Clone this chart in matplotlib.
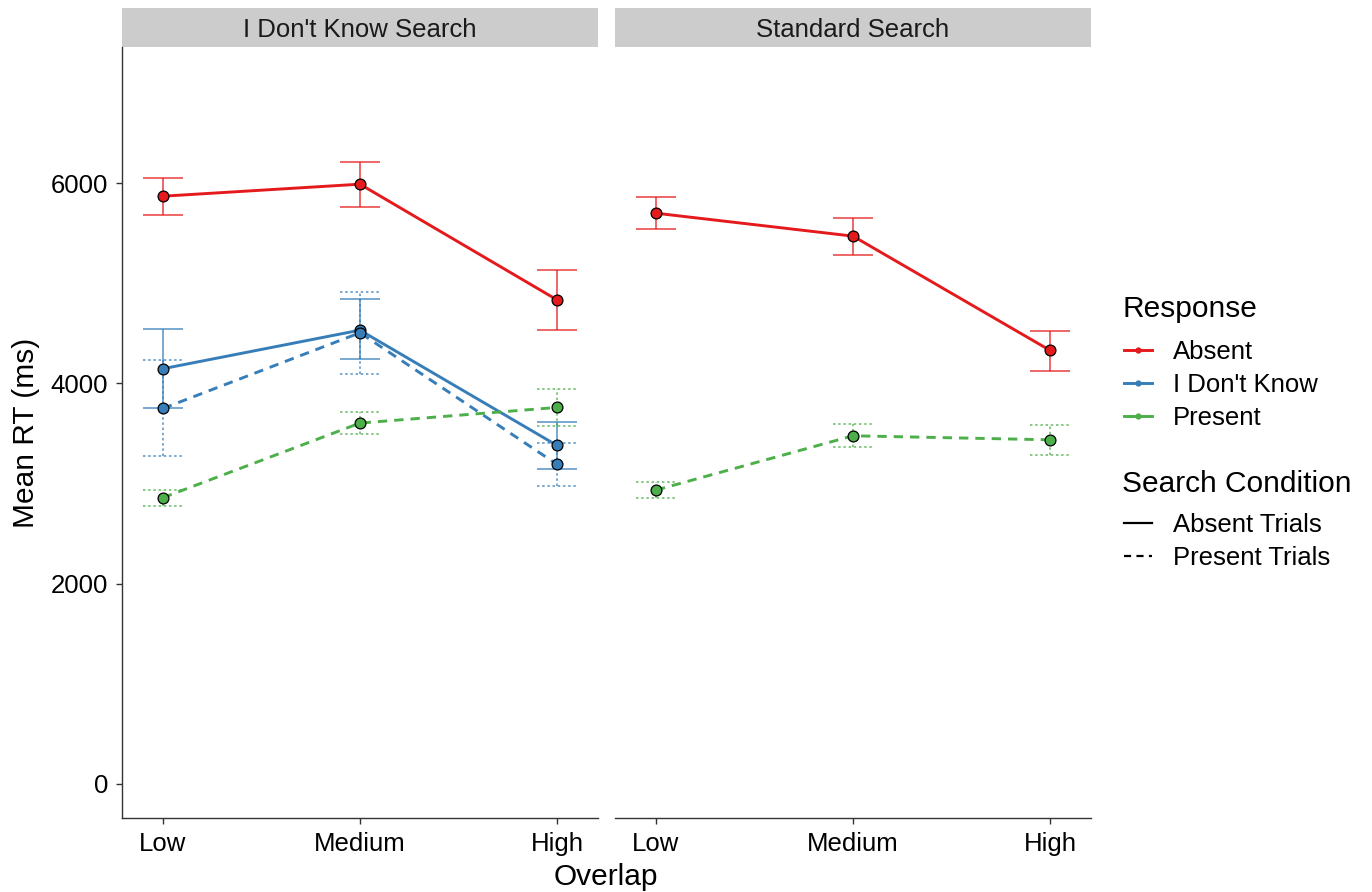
"""Mean RT by overlap level, split by search condition, response and trial type."""

import matplotlib

matplotlib.use("Agg")

import matplotlib.pyplot as plt
from matplotlib.lines import Line2D
from matplotlib.patches import Rectangle

plt.rcParams["font.family"] = ["Liberation Sans", "DejaVu Sans"]

OVERLAP = ["Low", "Medium", "High"]
PANELS = ["I Don't Know Search", "Standard Search"]

# (panel, response, trial type): mean, lower, upper
idk_absent_mean = [5870, 5990, 4835]
idk_absent_lo = [5683, 5763, 4535]
idk_absent_hi = [6048, 6216, 5134]

idk_idk_absent_mean = [4147, 4532, 3381]
idk_idk_absent_lo = [3757, 4240, 3145]
idk_idk_absent_hi = [4539, 4842, 3611]

idk_idk_present_mean = [3750, 4506, 3192]
idk_idk_present_lo = [3271, 4096, 2972]
idk_idk_present_hi = [4230, 4912, 3407]

idk_present_mean = [2859, 3604, 3760]
idk_present_lo = [2775, 3491, 3574]
idk_present_hi = [2935, 3717, 3943]

std_absent_mean = [5700, 5471, 4330]
std_absent_lo = [5540, 5284, 4126]
std_absent_hi = [5863, 5653, 4525]

std_present_mean = [2935, 3477, 3437]
std_present_lo = [2858, 3367, 3284]
std_present_hi = [3012, 3591, 3581]

COLORS = {"Absent": "#E41A1C", "I Don't Know": "#377EB8", "Present": "#4DAF4A"}
LINESTYLES = {"Absent Trials": "solid", "Present Trials": (0, (3.2, 2.4))}
ERR_STYLES = {"Absent Trials": "solid", "Present Trials": (0, (1.6, 1.8))}

series = {
    PANELS[0]: [
        ("Absent", "Absent Trials", idk_absent_mean, idk_absent_lo, idk_absent_hi),
        ("I Don't Know", "Absent Trials", idk_idk_absent_mean, idk_idk_absent_lo, idk_idk_absent_hi),
        ("I Don't Know", "Present Trials", idk_idk_present_mean, idk_idk_present_lo, idk_idk_present_hi),
        ("Present", "Present Trials", idk_present_mean, idk_present_lo, idk_present_hi),
    ],
    PANELS[1]: [
        ("Absent", "Absent Trials", std_absent_mean, std_absent_lo, std_absent_hi),
        ("Present", "Present Trials", std_present_mean, std_present_lo, std_present_hi),
    ],
}

BASE = 18.5
TITLE = 21.5
AXIS_COLOR = "#333333"

fig = plt.figure(figsize=(13.72, 8.92), dpi=100)
ax_left = fig.add_axes([0.0889, 0.0830, 0.3469, 0.8643])
ax_right = fig.add_axes([0.4483, 0.0830, 0.3469, 0.8643], sharey=ax_left)
xs = [1, 2, 3]
cap = 0.1

for ax, panel in zip([ax_left, ax_right], PANELS):
    for response, trials, mean, lo, hi in series[panel]:
        color = COLORS[response]
        ax.vlines(xs, lo, hi, colors=color, linewidth=1.1,
                  linestyles=ERR_STYLES[trials], alpha=0.85, zorder=2)
        for edge in (lo, hi):
            ax.hlines(edge, [x - cap for x in xs], [x + cap for x in xs],
                      colors=color, linewidth=1.1,
                      linestyles=ERR_STYLES[trials], alpha=0.85, zorder=2)
        ax.plot(xs, mean, color=color, linewidth=2.1,
                linestyle=LINESTYLES[trials], zorder=3)
        ax.plot(xs, mean, linestyle="none", marker="o", markersize=7.8,
                markerfacecolor=color, markeredgecolor="black",
                markeredgewidth=0.9, zorder=4)

    ax.set_xlim(0.792, 3.208)
    ax.set_xticks(xs)
    ax.set_xticklabels(OVERLAP, fontsize=BASE, color="black")
    for side in ("top", "right"):
        ax.spines[side].set_visible(False)
    ax.spines["bottom"].set_color(AXIS_COLOR)
    ax.spines["bottom"].set_linewidth(1.0)
    ax.tick_params(axis="x", length=4.3, width=1.0, color=AXIS_COLOR, pad=6)

    # facet strip
    ax.add_patch(Rectangle((0, 1.0), 1, 0.0506, transform=ax.transAxes,
                           facecolor="#CCCCCC", edgecolor="none", clip_on=False))
    ax.text(0.5, 1.0253, panel, transform=ax.transAxes, ha="center",
            va="center_baseline", fontsize=BASE, color="#1A1A1A")

ax_left.set_ylim(-340, 7360)
ax_left.set_yticks([0, 2000, 4000, 6000])
ax_left.tick_params(axis="y", labelsize=BASE, labelcolor="black",
                    length=4.3, width=1.0, color=AXIS_COLOR, pad=5.5)
ax_left.spines["left"].set_color(AXIS_COLOR)
ax_left.spines["left"].set_linewidth(1.0)
ax_left.set_ylabel("Mean RT (ms)", fontsize=TITLE, labelpad=8)

ax_right.spines["left"].set_visible(False)
ax_right.tick_params(axis="y", left=False, labelleft=False)

fig.text(0.4418, 0.0075, "Overlap", ha="center", va="baseline", fontsize=TITLE)

response_handles = [
    Line2D([], [], color=c, linewidth=2.1, marker="o", markersize=3.5)
    for c in COLORS.values()
]
trial_handles = [
    Line2D([], [], color="black", linewidth=1.6, linestyle=ls)
    for ls in LINESTYLES.values()
]
leg_kw = dict(frameon=False, fontsize=BASE, handlelength=1.1,
              handletextpad=0.8, labelspacing=0.35, borderaxespad=0,
              borderpad=0)
fig.text(0.8178, 0.657, "Response", ha="left", va="center_baseline",
         fontsize=TITLE)
fig.legend(response_handles, list(COLORS), loc="upper left",
           bbox_to_anchor=(0.8192, 0.6188), **leg_kw)
fig.text(0.8178, 0.4608, "Search Condition", ha="left", va="center_baseline",
         fontsize=TITLE)
fig.legend(trial_handles, list(LINESTYLES), loc="upper left",
           bbox_to_anchor=(0.8192, 0.4249), **leg_kw)

fig.savefig("out.png", dpi=100)
